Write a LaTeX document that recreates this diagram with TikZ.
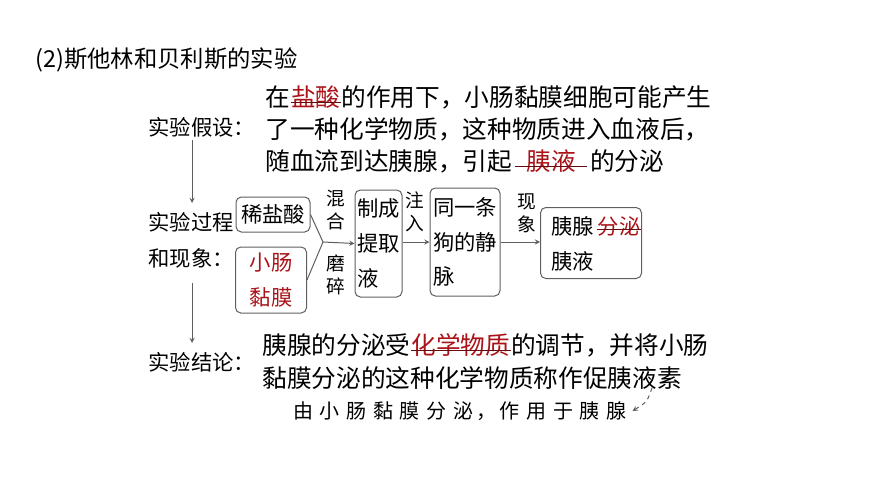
\documentclass[tikz,border=0pt]{standalone}
\usepackage{fontspec}
\setmainfont{Noto Sans CJK SC}
\usetikzlibrary{positioning}
\definecolor{redtxt}{RGB}{170,20,25}
\definecolor{lngray}{RGB}{95,95,95}
\tikzset{every picture/.style={line width=0.75pt}}
\tikzset{
  txt/.style={anchor=west,inner sep=0pt,font=\fontsize{18.5}{26}\selectfont},
  lbl/.style={txt,font=\fontsize{16}{20}\selectfont},
  redt/.style={txt,text=redtxt},
  small/.style={inner sep=0pt,align=center,font=\fontsize{14}{17}\selectfont},
  box/.style={draw=lngray,rounded corners=4pt,inner sep=0pt,align=center,font=\fontsize{16}{26}\selectfont},
  arr/.style={draw=lngray,-stealth},
  uline/.style={draw=redtxt!60!black,line width=0.9pt}
}

\begin{document}
\begin{tikzpicture}[x=0.75pt,y=0.75pt,yscale=-1,xscale=1]
\useasboundingbox (0,0) rectangle (870,489);

% Title
\node [txt,font=\fontsize{17.5}{20}\selectfont] (title) at (35,60) {(2)斯他林和贝利斯的实验};

% Hypothesis
\node [lbl] (hyp) at (148,127) {实验假设：};
\node [txt] (h1a) at (265,97) {在};
\node [redt,right=0pt of h1a] (h1b) {盐酸};
\node [txt,right=0pt of h1b] (h1c) {的作用下，小肠黏膜细胞可能产生};
\node [txt] (h2) at (265,129) {了一种化学物质，这种物质进入血液后，};
\node [txt] (h3a) at (265,161) {随血流到达胰腺，引起};
\node [redt,right=10pt of h3a] (h3b) {胰液};
\node [txt,right=10pt of h3b] (h3c) {的分泌};
\draw [uline] ([yshift=-5pt]h1b.south west) -- ([yshift=-5pt]h1b.south east);
\draw [uline] ([xshift=-8pt,yshift=-5pt]h3b.south west) -- ([xshift=8pt,yshift=-5pt]h3b.south east);

% Process
\coordinate (v1) at (192,140);
\coordinate (v2) at (192,203);
\draw [arr] (v1) -- (v2);
\node [lbl] (proc1) at (148,222) {实验过程};
\node [lbl] (proc2) at (148,258) {和现象：};

\node [box,minimum width=55.5pt,minimum height=26.25pt] (salt) at (273,214.5) {稀盐酸};
\node [box,minimum width=53.25pt,minimum height=49.5pt,text=redtxt] (muc) at (271,280) {小肠\\黏膜};
\coordinate (join) at (323,242);
\draw [lngray] (salt.east) -- (join);
\draw [lngray] (muc.east) -- (join);
\node [box,minimum width=35.25pt,minimum height=80.25pt,align=left] (ext) at (378.5,243.5) {制成\\提取\\液};
\draw [arr] (join) -- (ext.west);
\node [small] (mix) at (336,210) {混\\合};
\node [small] (grind) at (336,275) {磨\\碎};
\node [box,minimum width=52.5pt,minimum height=81pt,align=left] (dog) at (465,242) {同一条\\狗的静\\脉};
\draw [arr] (ext.east |- join) -- (dog.west |- join);
\node [small] (inj) at (415,212) {注\\入};
\node [box,minimum width=75.75pt,minimum height=53.25pt] (pan) at (591,243) {};
\node [lbl] (pa) at (551,226) {胰腺};
\node [lbl,text=redtxt,right=2pt of pa] (pb) {分泌};
\node [lbl] (pc) at (551,261) {胰液};
\draw [uline] ([yshift=-5pt]pb.south west) -- ([yshift=-5pt]pb.south east);
\draw [arr] (dog.east |- join) -- (pan.west |- join);
\node [small] (phen) at (527,213) {现\\象};

% Conclusion
\coordinate (v3) at (192,283);
\coordinate (v4) at (192,343);
\draw [arr] (v3) -- (v4);
\node [lbl] (con) at (148,362) {实验结论：};
\node [txt] (c1a) at (262,345) {胰腺的分泌受};
\node [redt,right=0pt of c1a] (c1b) {化学物质};
\node [txt,right=0pt of c1b] (c1c) {的调节，并将小肠};
\node [txt] (c2) at (262,378) {黏膜分泌的这种化学物质称作促胰液素};
\draw [uline] ([yshift=-5pt]c1b.south west) -- ([yshift=-5pt]c1b.south east);
\node [inner sep=0pt,font=\fontsize{15}{17}\selectfont] (note) at (460,411) {由\,\,小\,\,肠\,\,黏\,\,膜\,\,分\,\,泌\,，\,作\,\,用\,\,于\,\,胰\,\,腺};
\coordinate (tip) at (652,388);
\draw [draw=lngray,dashed,-stealth] (tip) .. controls (647,402) .. ([xshift=4pt]note.east);
\end{tikzpicture}
\end{document}
